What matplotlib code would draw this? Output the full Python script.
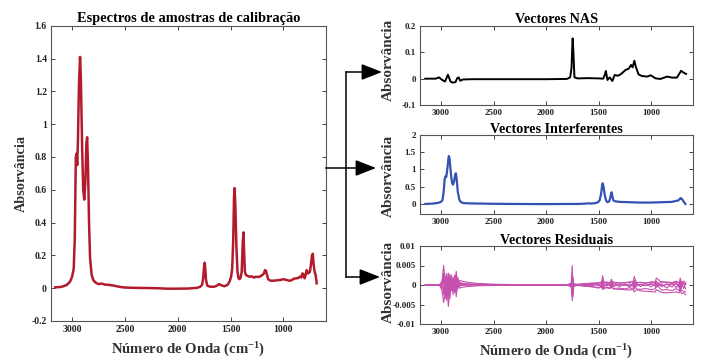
import numpy as np
import matplotlib
matplotlib.use("Agg")
import matplotlib.pyplot as plt
from matplotlib.patches import FancyArrowPatch
from matplotlib.lines import Line2D

plt.rcParams['font.family'] = ['Liberation Serif', 'DejaVu Serif']
plt.rcParams['font.weight'] = 'bold'
plt.rcParams['mathtext.fontset'] = 'custom'
plt.rcParams['mathtext.rm'] = 'Liberation Serif:bold'
plt.rcParams['mathtext.bf'] = 'Liberation Serif:bold'
plt.rcParams['mathtext.default'] = 'rm'

# ---------------- data ----------------
# calibration spectra (red)
red_wn = [3160, 3100, 3050, 3020, 3000, 2985, 2975, 2965, 2958, 2952,
          2945, 2935, 2925, 2918, 2905, 2895, 2885, 2875, 2865, 2858,
          2850, 2840, 2830, 2815, 2800, 2780, 2750, 2720, 2690, 2650,
          2600, 2550, 2500, 2400, 2300, 2200, 2100, 2000, 1900, 1820,
          1790, 1770, 1760, 1750, 1745, 1740, 1733, 1720, 1700, 1660,
          1630, 1610, 1590, 1560, 1530, 1510, 1495, 1485, 1475, 1468,
          1462, 1455, 1445, 1435, 1425, 1415, 1405, 1395, 1385, 1378,
          1372, 1365, 1355, 1340, 1320, 1300, 1280, 1260, 1240, 1220,
          1200, 1185, 1175, 1165, 1155, 1145, 1130, 1110, 1090, 1060,
          1030, 1000, 970, 940, 920, 900, 880, 860, 845, 830,
          820, 810, 800, 790, 780, 765, 750, 740, 730, 722,
          715, 705, 695, 685]
red_ab = [0.005, 0.008, 0.02, 0.04, 0.07, 0.12, 0.3, 0.8, 0.82, 0.75,
          0.9, 1.25, 1.41, 1.3, 0.85, 0.6, 0.54, 0.65, 0.88, 0.92,
          0.75, 0.4, 0.18, 0.08, 0.05, 0.035, 0.025, 0.028, 0.022, 0.02,
          0.015, 0.008, 0.004, 0.002, 0.001, 0.0, -0.003, -0.003, -0.002, 0.002,
          0.008, 0.02, 0.06, 0.14, 0.155, 0.12, 0.05, 0.015, 0.01, 0.008,
          0.015, 0.025, 0.018, 0.012, 0.02, 0.04, 0.07, 0.12, 0.3, 0.55,
          0.61, 0.5, 0.25, 0.1, 0.06, 0.055, 0.065, 0.1, 0.28, 0.34,
          0.22, 0.1, 0.08, 0.075, 0.07, 0.072, 0.065, 0.07, 0.068, 0.072,
          0.08, 0.09, 0.11, 0.105, 0.08, 0.055, 0.048, 0.045, 0.046, 0.048,
          0.05, 0.055, 0.05, 0.045, 0.05, 0.058, 0.06, 0.062, 0.07, 0.065,
          0.09, 0.085, 0.06, 0.08, 0.11, 0.09, 0.1, 0.14, 0.2, 0.21,
          0.15, 0.1, 0.08, 0.03]

# NAS vector (black)
nas_wn = [3150, 3050, 3020, 2988, 2962, 2934, 2909, 2887, 2862, 2847,
          2832, 2817, 2790, 2700, 2400, 2000, 1800, 1770, 1757, 1750,
          1746, 1740, 1729, 1700, 1600, 1500, 1455, 1440, 1430, 1415,
          1393, 1368, 1346, 1315, 1284, 1243, 1212, 1190, 1175, 1159,
          1143, 1118, 1087, 1034, 1003, 956, 909, 847, 800, 753,
          713, 691, 666]
nas_ab = [0.0, 0.0, 0.005, -0.005, -0.011, 0.015, -0.011, -0.015, -0.013, 0.001,
          0.005, -0.008, -0.003, -0.002, -0.002, -0.002, -0.001, 0.005, 0.04, 0.12,
          0.153, 0.11, 0.005, 0.001, 0.002, 0.001, 0.0, 0.015, 0.029, -0.005,
          0.005, -0.009, 0.014, 0.011, 0.018, 0.033, 0.038, 0.052, 0.043, 0.068,
          0.043, 0.016, 0.01, 0.008, 0.013, 0.001, -0.001, 0.008, 0.004, 0.004,
          0.03, 0.023, 0.018]

# interferent vectors (blue)
int_wn = [3150, 3080, 3030, 3000, 2985, 2975, 2965, 2958, 2950, 2940,
          2930, 2925, 2918, 2905, 2895, 2885, 2875, 2865, 2858, 2850,
          2840, 2825, 2810, 2790, 2760, 2700, 2600, 2500, 2300, 2000,
          1800, 1700, 1620, 1600, 1580, 1540, 1510, 1490, 1475, 1465,
          1460, 1452, 1440, 1428, 1415, 1400, 1390, 1380, 1375, 1368,
          1358, 1345, 1300, 1200, 1100, 1000, 900, 800, 760, 740,
          725, 715, 700, 685, 672]
int_ab = [0.0, 0.01, 0.03, 0.06, 0.12, 0.35, 0.72, 0.8, 0.78, 1.0,
          1.3, 1.39, 1.3, 0.85, 0.62, 0.56, 0.66, 0.85, 0.89, 0.7,
          0.35, 0.12, 0.05, 0.03, 0.02, 0.015, 0.01, 0.005, 0.0, -0.005,
          0.0, 0.0, 0.01, 0.02, 0.01, 0.02, 0.04, 0.1, 0.3, 0.55,
          0.6, 0.5, 0.25, 0.1, 0.05, 0.07, 0.15, 0.3, 0.34, 0.22,
          0.1, 0.08, 0.06, 0.05, 0.04, 0.04, 0.05, 0.06, 0.09, 0.1,
          0.15, 0.17, 0.12, 0.05, 0.0]

# residual vectors (magenta), values in units of 1e-3
res_wn = [3150, 3050, 3010, 2990, 2975, 2960, 2945, 2930, 2915, 2900,
          2885, 2870, 2855, 2840, 2820, 2800, 2750, 2650, 2500, 2300,
          2000, 1800, 1760, 1750, 1742, 1735, 1700, 1620, 1560, 1500,
          1470, 1460, 1450, 1420, 1390, 1377, 1360, 1300, 1250, 1200,
          1170, 1160, 1140, 1100, 1050, 1000, 960, 950, 900, 850,
          800, 760, 730, 722, 710, 690, 670]
res_1 = [0, 0, 0.2, 1.0, 5.0, 1.0, -1.5, 3.0, 0.5, -1.0,
         2.0, 0.0, 3.5, -0.5, 1.2, 1.0, 0.7, 0.4, 0.2, 0.1,
         0.0, 0.0, 0.5, 5.0, -1.5, 0.3, 0.2, 0.4, 0.5, 0.6,
         0.8, 2.4, 0.5, 0.8, 0.5, 1.5, 0.3, 0.6, 0.5, 0.7,
         0.8, 2.2, 0.6, 0.7, 0.5, 0.8, 0.6, 1.8, 0.7, 0.8,
         0.6, 1.0, 0.5, 1.8, 0.4, 1.0, 0.6]
res_2 = [0, 0, -0.2, -1.5, -4.5, -2.0, 1.5, -5.5, -1.0, 2.5,
         -2.5, 1.0, -3.0, 0.5, -0.8, -0.6, -0.4, -0.2, -0.1, 0.0,
         0.0, 0.0, -0.5, -4.0, 1.0, -0.3, -0.1, -0.3, -0.5, -0.6,
         -0.4, -1.2, -0.8, -0.7, -0.9, -0.5, -1.0, -1.1, -1.2, -1.3,
         -1.0, -1.8, -1.2, -1.5, -1.6, -1.7, -1.8, -1.2, -1.9, -2.0,
         -1.9, -1.8, -2.0, -1.2, -2.2, -2.0, -2.5]
res_3 = [0, 0, 0.1, -0.5, 2.0, -3.5, 3.0, -2.0, 2.8, -1.5,
         1.5, -2.0, 2.5, -1.0, 0.6, 0.5, 0.3, 0.2, 0.1, 0.05,
         0.0, 0.0, -0.3, 3.0, -3.0, 0.2, 0.0, 0.1, -0.2, 0.3,
         -0.5, 1.5, -0.6, 0.4, -0.3, 1.0, -0.4, 0.2, -0.1, 0.3,
         -0.5, 1.2, -0.3, 0.2, -0.2, 0.4, -0.3, 1.0, -0.4, 0.3,
         -0.5, 0.6, -0.8, 1.2, -0.6, 0.5, -1.0]
res_4 = [0, 0, -0.1, 0.5, -2.5, 2.5, -4.0, 1.5, -3.5, 1.0,
         -1.5, 2.5, -1.5, 2.0, -0.3, 0.2, 0.1, 0.05, 0.0, 0.0,
         0.0, 0.0, 0.2, -2.5, 2.0, -0.2, 0.0, -0.3, 0.4, -0.2,
         0.5, -0.8, 0.7, -0.3, 0.6, -0.6, 0.5, -0.4, 0.3, -0.6,
         0.6, -1.0, 0.5, -0.4, 0.4, -0.5, 0.6, -0.6, 0.3, -0.8,
         0.5, -0.7, 0.6, -1.5, 0.8, -0.9, 0.4]
res_5 = [0, 0, 0.1, 0.8, 3.0, -1.0, 0.5, -2.5, 2.0, 0.5,
         0.8, -1.0, 1.5, 0.3, 0.4, 0.3, 0.2, 0.1, 0.05, 0.0,
         0.0, 0.0, 0.3, 2.0, -2.0, 0.1, -0.1, -0.2, -0.4, -0.8,
         -0.5, 1.0, -0.9, -0.6, -0.8, 0.3, -0.9, -0.8, -1.0, -0.7,
         -1.2, 0.5, -1.0, -1.1, -0.9, -1.2, -1.0, 0.2, -1.3, -1.2,
         -1.4, -0.9, -1.5, 0.5, -1.3, -1.6, -1.8]
res_6 = [0, 0, -0.1, -0.8, -1.0, 1.5, -2.5, 2.0, -1.5, 0.8,
         -0.5, 1.8, -2.0, 1.0, -0.2, -0.1, -0.05, 0.0, 0.0, 0.0,
         0.0, 0.0, -0.2, 1.5, -1.0, 0.0, 0.1, 0.2, 0.3, 0.5,
         0.6, -0.5, 0.9, 0.5, 0.7, -0.2, 0.8, 0.5, 0.6, 0.8,
         0.9, -0.3, 0.7, 0.6, 0.5, 0.7, 0.8, -0.2, 0.9, 0.6,
         0.5, 0.8, 0.6, -0.5, 0.9, 0.4, 0.2]
res_7 = [0, 0, 0.0, 0.3, 1.0, -2.0, 1.0, -3.0, 0.8, -0.5,
         1.0, -0.8, 0.8, -0.4, 0.1, 0.1, 0.05, 0.0, 0.0, 0.0,
         0.0, 0.0, 0.1, 1.0, -1.5, 0.0, 0.0, -0.1, 0.1, 0.2,
         -0.3, 0.6, -0.2, 0.2, 0.1, 0.5, -0.1, 0.0, 0.1, -0.2,
         0.3, 0.8, 0.0, 0.1, -0.1, 0.2, 0.0, 0.5, -0.2, 0.1,
         0.2, 0.3, -0.3, 0.8, 0.2, 0.3, 0.5]
res_traces = [res_1, res_2, res_3, res_4, res_5, res_6, res_7]

x_ticks = [3000, 2500, 2000, 1500, 1000]

# ---------------- figure ----------------
W, H = 708, 363
fig = plt.figure(figsize=(W / 100, H / 100), dpi=100)


def px_axes(x0, y0, x1, y1):
    return fig.add_axes([x0 / W, 1 - y1 / H, (x1 - x0) / W, (y1 - y0) / H])


def style(ax, fs):
    ax.set_xlim(3200, 600)
    ax.set_xticks(x_ticks)
    ax.tick_params(direction='in', length=3, width=0.6, top=True, right=True,
                   labelsize=fs, colors='#222222', pad=3)
    for lab in ax.get_xticklabels() + ax.get_yticklabels():
        lab.set_fontweight('bold')
    for s in ax.spines.values():
        s.set_color('#555555')
        s.set_linewidth(0.8)


def fmt(v):
    return '%g' % v


ax0 = px_axes(51, 25.7, 325.7, 321)
ax0.plot(red_wn, red_ab, color='#B31B2C', lw=1.8)
style(ax0, 7)
ax0.set_ylim(-0.2, 1.6)
yt = [-0.2, 0, 0.2, 0.4, 0.6, 0.8, 1.0, 1.2, 1.4, 1.6]
ax0.set_yticks(yt)
ax0.set_yticklabels([fmt(v) for v in yt], fontweight='bold')
ax0.set_title('Espectros de amostras de calibração', fontsize=10.4,
              fontweight='bold', pad=3)

ax1 = px_axes(420, 26, 693, 105)
ax1.plot(nas_wn, nas_ab, color='black', lw=1.4)
style(ax1, 6.5)
ax1.set_ylim(-0.1, 0.2)
yt = [-0.1, 0, 0.1, 0.2]
ax1.set_yticks(yt)
ax1.set_yticklabels([fmt(v) for v in yt], fontweight='bold')
ax1.set_title('Vectores NAS', fontsize=10.2, fontweight='bold', pad=2)

ax2 = px_axes(420, 135, 693, 214.3)
ax2.plot(int_wn, int_ab, color='#3352B2', lw=1.6)
style(ax2, 6.5)
ax2.set_ylim(-0.3, 2)
yt = [0, 0.5, 1, 1.5, 2]
ax2.set_yticks(yt)
ax2.set_yticklabels([fmt(v) for v in yt], fontweight='bold')
ax2.set_title('Vectores Interferentes', fontsize=10.2, fontweight='bold', pad=1.5)

ax3 = px_axes(420, 246, 693, 324)
for tr in res_traces:
    ax3.plot(res_wn, np.array(tr) * 1e-3, color='#C650AE', lw=0.8)
style(ax3, 6.5)
ax3.set_ylim(-0.01, 0.01)
yt = [-0.01, -0.005, 0, 0.005, 0.01]
ax3.set_yticks(yt)
ax3.set_yticklabels([fmt(v) for v in yt], fontweight='bold')
ax3.set_title('Vectores Residuais', fontsize=10.2, fontweight='bold', pad=1.5)

# axis labels
fig.text(21.7 / W, 1 - 173.5 / H, 'Absorvância', rotation=90, ha='center',
         va='center', fontsize=10.3, fontweight='bold', color='#333333')
for yc in (60, 175.5, 282):
    fig.text(388 / W, 1 - yc / H, 'Absorvância', rotation=90, ha='center',
             va='center', fontsize=11, fontweight='bold', color='#333333')
xl = 'Número de Onda (cm$^{-1}$)'
fig.text(188.4 / W, 1 - 350 / H, xl, ha='center', va='center',
         fontsize=10.6, fontweight='bold', color='#333333')
fig.text(556.5 / W, 1 - 352 / H, xl, ha='center', va='center',
         fontsize=10.6, fontweight='bold', color='#333333')


def fx(x):
    return x / W


def fy(y):
    return 1 - y / H


fig.add_artist(Line2D([fx(346), fx(346)], [fy(72), fy(277)], color='black',
                      lw=1.1, transform=fig.transFigure))
for (xa, ya, xb) in [(346, 72, 382), (325.7, 168, 376), (346, 277, 380)]:
    arr = FancyArrowPatch((fx(xa), fy(ya)), (fx(xb), fy(ya)),
                          transform=fig.transFigure,
                          arrowstyle='-|>,head_length=1.15,head_width=0.45',
                          mutation_scale=11, color='black', lw=1.1,
                          shrinkA=0, shrinkB=0)
    fig.add_artist(arr)

fig.savefig('out.png', dpi=100)
